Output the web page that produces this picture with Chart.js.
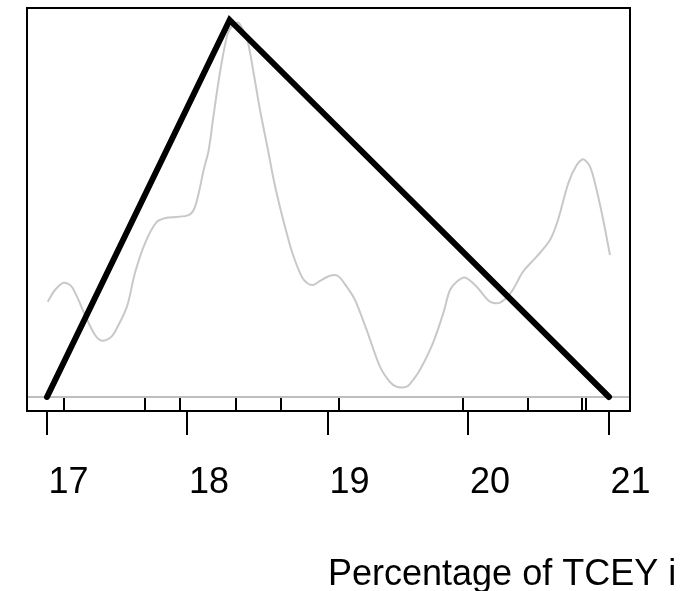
<!DOCTYPE html>
<html>
<head>
<meta charset="utf-8">
<script src="https://cdn.jsdelivr.net/npm/chart.js@4/dist/chart.umd.min.js"></script>
<style>
  html, body { margin: 0; padding: 0; background: #fff; }
  #wrap { width: 697px; height: 591px; }
</style>
</head>
<body>
<div id="wrap"><canvas id="c" width="697" height="591"></canvas></div>
<script>
// ---- data ----
const tickValues = [17, 18, 19, 20, 21];
const tickLabels = ['17', '18', '19', '20', '21'];
const axisTitle = 'Percentage of TCEY i';

const triangleX = [17, 18.3, 21];
const triangleY = [0, 0.5, 0];

const densityX = [17.005, 17.057, 17.119, 17.178, 17.270, 17.342, 17.391, 17.448, 17.484, 17.569,
  17.626, 17.698, 17.783, 17.854, 17.996, 18.044, 18.080, 18.115, 18.151, 18.181,
  18.217, 18.253, 18.288, 18.324, 18.362, 18.395, 18.431, 18.473, 18.516, 18.573,
  18.609, 18.651, 18.694, 18.744, 18.813, 18.851, 18.893, 18.943, 19.014, 19.071,
  19.133, 19.192, 19.275, 19.370, 19.441, 19.489, 19.560, 19.605, 19.654, 19.747,
  19.821, 19.868, 19.916, 19.975, 20.058, 20.153, 20.224, 20.307, 20.388, 20.485,
  20.580, 20.637, 20.710, 20.770, 20.817, 20.865, 20.912, 20.959, 21.007];
const densityY = [0.1264, 0.1419, 0.1516, 0.1459, 0.1088, 0.0822, 0.0747, 0.0783, 0.0866, 0.1198,
  0.1645, 0.2042, 0.2325, 0.2378, 0.2405, 0.2480, 0.2706, 0.3011, 0.3276, 0.3674,
  0.4138, 0.4536, 0.4828, 0.4934, 0.4964, 0.4867, 0.4695, 0.4271, 0.3806, 0.3276,
  0.2922, 0.2573, 0.2259, 0.1923, 0.1596, 0.1512, 0.1485, 0.1539, 0.1609, 0.1605,
  0.1463, 0.1287, 0.0889, 0.0402, 0.0199, 0.0137, 0.0137, 0.0225, 0.0358, 0.0716,
  0.1114, 0.1419, 0.1529, 0.1585, 0.1463, 0.1264, 0.1251, 0.1397, 0.1662, 0.1861,
  0.2082, 0.2348, 0.2834, 0.3077, 0.3153, 0.3055, 0.2745, 0.2348, 0.1883];

const rugX = [17.121, 17.698, 17.947, 18.345, 18.665, 19.078, 19.961, 20.423, 20.808, 20.836];

// ---- chart ----
const FONT = "'Liberation Sans', Arial, sans-serif";

const decor = {
  id: 'decor',
  beforeDatasetsDraw(chart) {
    const { ctx, chartArea: a, scales: { y } } = chart;
    const y0 = y.getPixelForValue(0);
    ctx.save();
    ctx.strokeStyle = '#bebebe';
    ctx.lineWidth = 2;
    ctx.beginPath();
    ctx.moveTo(a.left, y0);
    ctx.lineTo(a.right, y0);
    ctx.stroke();
    ctx.restore();
  },
  afterDraw(chart) {
    const { ctx, chartArea: a, scales: { x, y } } = chart;
    const y0 = y.getPixelForValue(0);
    ctx.save();
    ctx.strokeStyle = '#000';
    ctx.lineWidth = 2;
    // rug
    ctx.beginPath();
    rugX.forEach(v => {
      const px = Math.round(x.getPixelForValue(v));
      ctx.moveTo(px, y0 + 1);
      ctx.lineTo(px, a.bottom);
    });
    ctx.stroke();
    // box
    ctx.strokeRect(a.left, a.top, a.right - a.left, a.bottom - a.top);
    // axis ticks
    ctx.beginPath();
    tickValues.forEach(v => {
      const px = Math.round(x.getPixelForValue(v));
      ctx.moveTo(px, a.bottom);
      ctx.lineTo(px, a.bottom + 24);
    });
    ctx.stroke();
    // tick labels
    ctx.fillStyle = '#000';
    ctx.textBaseline = 'alphabetic';
    ctx.font = '36px ' + FONT;
    ctx.textAlign = 'center';
    tickValues.forEach((v, i) => {
      const px = x.getPixelForValue(v);
      ctx.fillText(tickLabels[i], px + 21.5, 493);
    });
    // axis title
    ctx.textAlign = 'left';
    ctx.fillText(axisTitle, 328, 585);
    ctx.restore();
  }
};

new Chart(document.getElementById('c'), {
  type: 'line',
  data: {
    datasets: [
      {
        label: 'triangle',
        data: triangleX.map((v, i) => ({ x: v, y: triangleY[i] })),
        borderColor: '#000',
        borderWidth: 6,
        borderCapStyle: 'round',
        borderJoinStyle: 'miter',
        pointRadius: 0,
        tension: 0,
        order: 0
      },
      {
        label: 'density',
        data: densityX.map((v, i) => ({ x: v, y: densityY[i] })),
        borderColor: '#c8c8c8',
        borderWidth: 2,
        pointRadius: 0,
        tension: 0.3,
        order: 1
      }
    ]
  },
  options: {
    responsive: false,
    devicePixelRatio: 1,
    animation: false,
    layout: { padding: { left: 27, top: 8, right: 67, bottom: 180 } },
    plugins: { legend: { display: false }, tooltip: { enabled: false } },
    scales: {
      x: { type: 'linear', display: false, min: 16.8577, max: 21.1495 },
      y: { type: 'linear', display: false, min: -0.01857, max: 0.5159 }
    }
  },
  plugins: [decor]
});
</script>
</body>
</html>
